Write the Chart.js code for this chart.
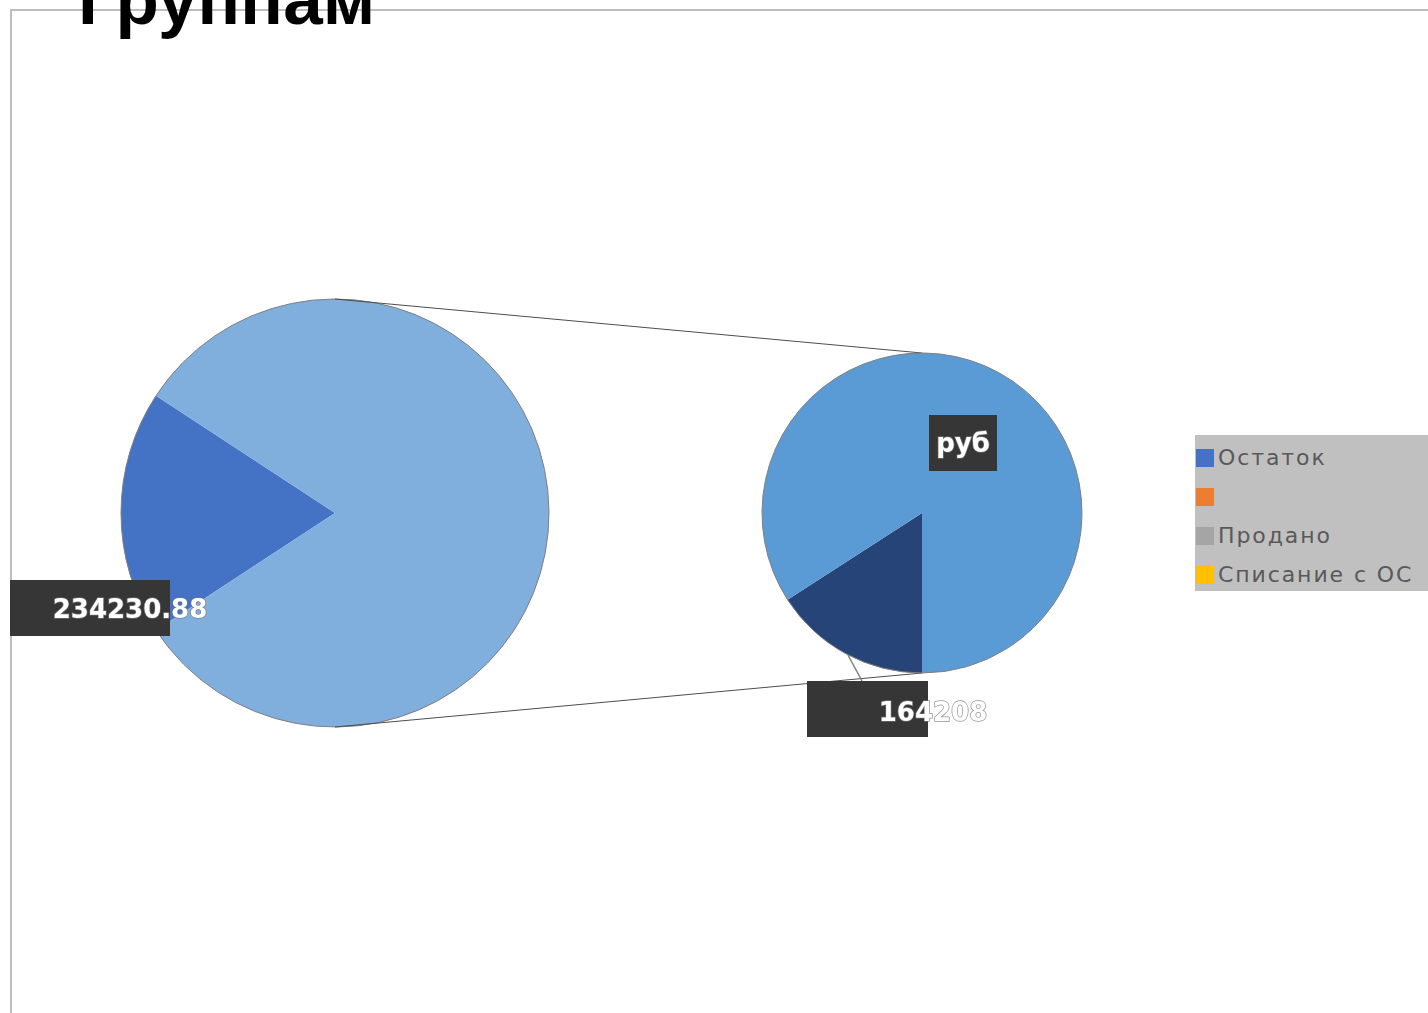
<!DOCTYPE html>
<html>
<head>
<meta charset="utf-8">
<script src="https://cdn.jsdelivr.net/npm/chart.js"></script>
<style>
  html, body { margin: 0; padding: 0; background: #fff; }
  body { width: 1428px; height: 1013px; position: relative; overflow: hidden; }
  canvas { position: absolute; left: 0; top: 0; }
  #frame { position: absolute; left: 10px; top: 9px; right: -5px; bottom: -5px;
    border-top: 2px solid #bdbdbd; border-left: 2px solid #bdbdbd; }
  #title { position: absolute; left: 78px; top: -41px; font: bold 71px "Liberation Sans", Arial, sans-serif;
    color: #000; white-space: nowrap; z-index: 5; }
  #legend { position: absolute; left: 1195px; top: 435px; width: 260px; height: 156px; background: #c0c0c0; z-index: 5; }
  .item { position: absolute; left: 1px; height: 22px; font: 22px "DejaVu Sans", sans-serif; color: #595959;
    letter-spacing: 1.9px; line-height: 22px; white-space: nowrap; }
  .item span { display: inline-block; width: 18px; height: 18px; vertical-align: -2px; margin-right: 4px; }
</style>
</head>
<body>
<div id="frame"></div>
<div id="title">Группам</div>
<canvas id="big" width="1428" height="1013"></canvas>
<canvas id="small" width="1428" height="1013"></canvas>
<div id="legend"></div>
<script>
// первичная диаграмма: отдельный срез + "прочее" (сумма вторичной)
const bigLabels = ["Остаток", "Прочее"]
const bigMain = 234230.88
// вторичная диаграмма
const smallLabels = ["", "руб"]
const smallValues = [164208, 870000]
const bigColors = ["#4472C4", "#80AFDE"]
const smallColors = ["#264478", "#5B9BD5"]

// легенда
const legendNames = ["Остаток", "", "Продано", "Списание с ОС"]
const legendColors = ["#4472C4", "#ED7D31", "#A5A5A5", "#FFC000"]

const otherSum = smallValues.reduce((a, b) => a + b, 0)
const bigValues = [bigMain, otherSum]
const bigFrac = bigMain / (bigMain + otherSum)

const lg = document.getElementById("legend")
legendNames.forEach((name, i) => {
	const d = document.createElement("div")
	d.className = "item"
	d.style.top = (12 + i * 39) + "px"
	d.innerHTML = '<span style="background:' + legendColors[i] + '"></span>' + name
	lg.appendChild(d)
})

// контур круга по геометрии сегментов
const outline = {
	id: "outline",
	afterDatasetsDraw(chart) {
		const ctx = chart.ctx
		ctx.save()
		ctx.strokeStyle = "#7f7f7f"
		ctx.lineWidth = 1
		chart.getDatasetMeta(0).data.forEach(a => {
			ctx.beginPath()
			ctx.arc(a.x, a.y, a.outerRadius, a.startAngle, a.endAngle)
			ctx.stroke()
		})
		ctx.restore()
	},
}

// подписи в тёмных прямоугольниках
function drawTag(ctx, text, bx, by, bw, bh, tx, ty) {
	ctx.fillStyle = "#363636"
	ctx.fillRect(bx, by, bw, bh)
	ctx.font = "bold 26px 'DejaVu Sans'"
	ctx.textAlign = "center"
	ctx.textBaseline = "middle"
	ctx.lineWidth = 1.5
	ctx.strokeStyle = "rgba(120,120,120,0.8)"
	ctx.strokeText(text, tx, ty)
	ctx.fillStyle = "#fff"
	ctx.fillText(text, tx, ty)
}

const bigTags = {
	id: "bigTags",
	afterDraw(chart) {
		const a = chart.getDatasetMeta(0).data[0]
		const ds = chart.data.datasets[0].data
		drawTag(chart.ctx, String(ds[0]), a.x - 325, a.y + 67, 160, 56, a.x - 205, a.y + 98)
	},
}

const bigChart = new Chart(document.getElementById("big"), {
	type: "pie",
	data: {
		labels: bigLabels,
		datasets: [{ data: bigValues, backgroundColor: bigColors, borderWidth: 0 }],
	},
	options: {
		responsive: false,
		animation: false,
		rotation: 270 - bigFrac * 180,
		layout: { padding: { left: 121, right: 879, top: 299, bottom: 286 } },
		plugins: { legend: { display: false }, tooltip: { enabled: false } },
	},
	plugins: [outline, bigTags],
})

const smallTags = {
	id: "smallTags",
	beforeDatasetsDraw(chart) {
		// соединительные линии между кругами
		const b = bigChart.getDatasetMeta(0).data[0]
		const s = chart.getDatasetMeta(0).data[0]
		const ctx = chart.ctx
		ctx.save()
		ctx.strokeStyle = "#4d4d4d"
		ctx.lineWidth = 1
		ctx.beginPath()
		ctx.moveTo(b.x, b.y - b.outerRadius)
		ctx.lineTo(s.x, s.y - s.outerRadius)
		ctx.moveTo(b.x, b.y + b.outerRadius)
		ctx.lineTo(s.x, s.y + s.outerRadius)
		ctx.stroke()
		ctx.restore()
	},
	afterDraw(chart) {
		const s = chart.getDatasetMeta(0).data[0]
		const ctx = chart.ctx
		const ds = chart.data.datasets[0].data
		ctx.save()
		ctx.strokeStyle = "#7f7f7f"
		ctx.lineWidth = 1.5
		ctx.beginPath()
		ctx.moveTo(s.x - 74, s.y + 142)
		ctx.lineTo(s.x - 60, s.y + 168)
		ctx.stroke()
		drawTag(ctx, String(ds[0]), s.x - 115, s.y + 168, 121, 56, s.x + 11, s.y + 201)
		drawTag(ctx, chart.data.labels[1], s.x + 7, s.y - 98, 68, 56, s.x + 41, s.y - 68)
		ctx.restore()
	},
}

new Chart(document.getElementById("small"), {
	type: "pie",
	data: {
		labels: smallLabels,
		datasets: [{ data: smallValues, backgroundColor: smallColors, borderWidth: 0 }],
	},
	options: {
		responsive: false,
		animation: false,
		rotation: 180,
		layout: { padding: { left: 762, right: 346, top: 353, bottom: 340 } },
		plugins: { legend: { display: false }, tooltip: { enabled: false } },
	},
	plugins: [outline, smallTags],
})
</script>
</body>
</html>
